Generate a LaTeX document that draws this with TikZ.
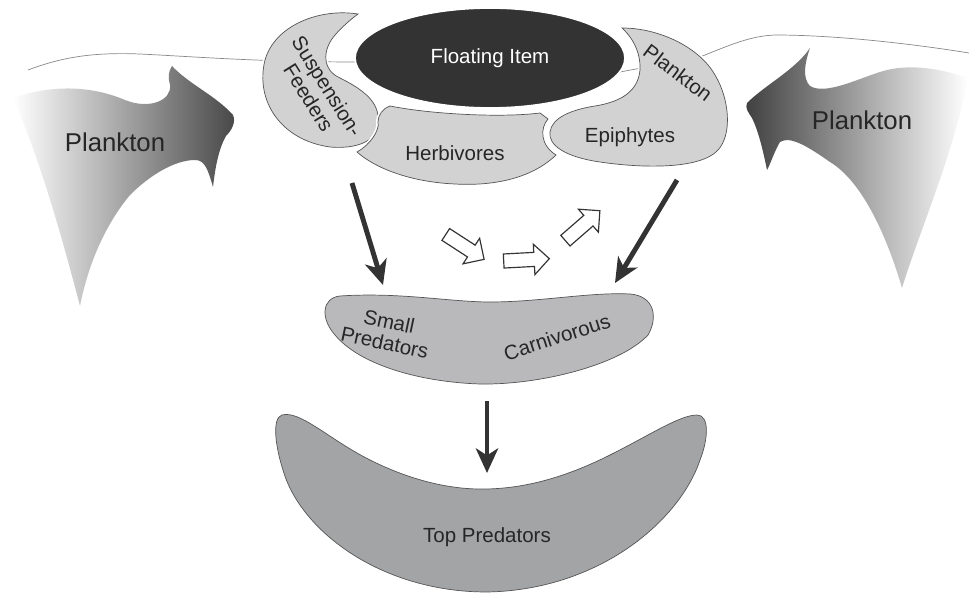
\documentclass[tikz,border=0pt]{standalone}
\usepackage{fontspec}
\setmainfont{Liberation Sans}
\usetikzlibrary{arrows.meta, shapes.arrows, shapes.geometric}
\definecolor{FoodDark}{HTML}{333333}
\definecolor{FoodLight}{HTML}{D2D2D2}
\definecolor{FoodMid}{HTML}{B9B9BB}
\definecolor{FoodDeep}{HTML}{A3A4A6}
\definecolor{FoodLine}{HTML}{555555}

\begin{document}
\begin{tikzpicture}[
    x=0.03cm, y=-0.03cm,
    blob/.style={draw=FoodLine, line width=0.6pt, preaction={draw=white, line width=3.5pt}},
    lbl/.style={font=\fontsize{17.5}{18.5}\selectfont, text=black!85, align=center, inner sep=0pt},
    plk/.style={font=\fontsize{22}{22}\selectfont, text=black!85, inner sep=0pt},
    bigarrow/.style={draw=FoodDark, line width=4.2pt, -{Stealth[length=21pt, width=19pt, inset=6pt]}},
    hollow/.style={single arrow, draw=FoodDark, fill=white, line width=1pt, minimum height=39pt, inner xsep=0pt, inner ysep=5.5pt, single arrow head extend=7pt}
]
\useasboundingbox (0,0) rectangle (969,594);

\draw[FoodLine!70, line width=0.6pt] (28,70) .. controls (60,58) and (90,52) .. (140,54) .. controls (200,57) and (260,62) .. (360,62) -- (620,72) -- (700,57) .. controls (730,45) and (750,36) .. (775,35) .. controls (840,35) and (920,45) .. (969,53);

% plankton masses
\shade[left color=white, right color=black!72] (13,98) .. controls (50,85) and (90,85) .. (125,100) .. controls (150,110) and (172,100) .. (170,85) .. controls (168,78) and (168,72) .. (172,66) .. controls (190,85) and (215,95) .. (233,115) .. controls (236,122) and (232,130) .. (226,136) .. controls (218,150) and (215,170) .. (213,187) .. controls (208,170) and (205,160) .. (195,160) .. controls (175,160) and (150,175) .. (130,195) .. controls (105,225) and (88,265) .. (80,306) .. controls (60,230) and (40,160) .. (13,98) -- cycle;
\shade[left color=black!75, right color=white] (747,103) .. controls (765,85) and (795,70) .. (810,48) .. controls (805,62) and (802,78) .. (810,86) .. controls (825,95) and (855,80) .. (880,72) .. controls (910,62) and (945,70) .. (968,78) .. controls (955,150) and (920,230) .. (902,288) .. controls (885,230) and (860,180) .. (830,162) .. controls (810,148) and (790,135) .. (780,142) .. controls (775,150) and (770,165) .. (767,170) .. controls (763,150) and (758,130) .. (752,118) .. controls (748,112) and (745,108) .. (747,103) -- cycle;
\node[plk] (plankL) at (115,142) {Plankton};
\node[plk] (plankR) at (862,120) {Plankton};

% top group
\fill[blob, fill=FoodLight] (358,14) .. controls (320,8) and (275,25) .. (265,60) .. controls (255,100) and (280,140) .. (330,147) .. controls (365,150) and (382,135) .. (378,118) .. controls (378,100) and (360,88) .. (340,78) .. controls (322,70) and (322,50) .. (335,35) .. controls (342,27) and (350,20) .. (358,14) -- cycle;
\fill[blob, fill=FoodLight] (390,106) .. controls (430,114) and (500,118) .. (540,113) -- (548,119) .. controls (540,128) and (540,145) .. (556,155) .. controls (530,180) and (490,186) .. (455,184) .. controls (410,182) and (375,168) .. (357,152) .. controls (370,145) and (380,130) .. (378,122) .. controls (378,115) and (383,108) .. (390,106) -- cycle;
\fill[blob, fill=FoodLight] (622,28) .. controls (660,28) and (700,48) .. (715,75) .. controls (730,100) and (732,135) .. (718,150) .. controls (700,170) and (640,168) .. (600,162) .. controls (565,157) and (548,145) .. (550,132) .. controls (552,118) and (570,110) .. (595,106) .. controls (620,102) and (638,92) .. (640,70) .. controls (641,50) and (630,35) .. (622,28) -- cycle;
\node[ellipse, fill=FoodDark, draw=white, line width=1.5pt, minimum width=8.1cm, minimum height=3cm, font=\fontsize{17.5}{17}\selectfont, text=white] (float) at (490,58) {Floating Item};
\node[lbl, rotate=-58] (susp) at (318,92) {Suspension-\\Feeders};
\node[lbl] (herb) at (455,153) {Herbivores};
\node[lbl, rotate=-37] (plankE) at (678,73) {Plankton};
\node[lbl] (epi) at (630,137) {Epiphytes};

% predators
\fill[blob, fill=FoodMid] (340,296) .. controls (400,292) and (450,302) .. (490,302) .. controls (540,302) and (590,292) .. (630,294) .. controls (655,296) and (658,318) .. (648,335) .. controls (620,365) and (540,385) .. (480,384) .. controls (420,382) and (360,365) .. (335,335) .. controls (320,318) and (322,298) .. (340,296) -- cycle;
\node[lbl, rotate=-12] (smallP) at (387,332) {Small\\Predators};
\node[lbl, rotate=18] (carni) at (557,337) {Carnivorous};
\fill[blob, fill=FoodDeep] (282,415) .. controls (300,410) and (330,440) .. (370,460) .. controls (410,480) and (450,490) .. (487,489) .. controls (530,488) and (570,475) .. (610,455) .. controls (650,435) and (680,415) .. (697,415) .. controls (710,415) and (708,440) .. (700,460) .. controls (680,520) and (600,590) .. (487,592) .. controls (380,592) and (300,530) .. (283,470) .. controls (275,445) and (272,418) .. (282,415) -- cycle;
\node[lbl] (topP) at (487,537) {Top Predators};

% flows
\coordinate (leftFrom) at (352,183);
\coordinate (leftTo) at (383,285);
\coordinate (rightFrom) at (677,180);
\coordinate (rightTo) at (615,283);
\coordinate (downFrom) at (487,401);
\coordinate (downTo) at (487,473);
\draw[bigarrow] (leftFrom) -- (leftTo);
\draw[bigarrow] (rightFrom) -- (rightTo);
\draw[bigarrow] (downFrom) -- (downTo);
\node[hollow, rotate=-33] (h1) at (462,245) {};
\node[hollow, rotate=3] (h2) at (523,260) {};
\node[hollow, rotate=41] (h3) at (580,228) {};
\end{tikzpicture}
\end{document}
